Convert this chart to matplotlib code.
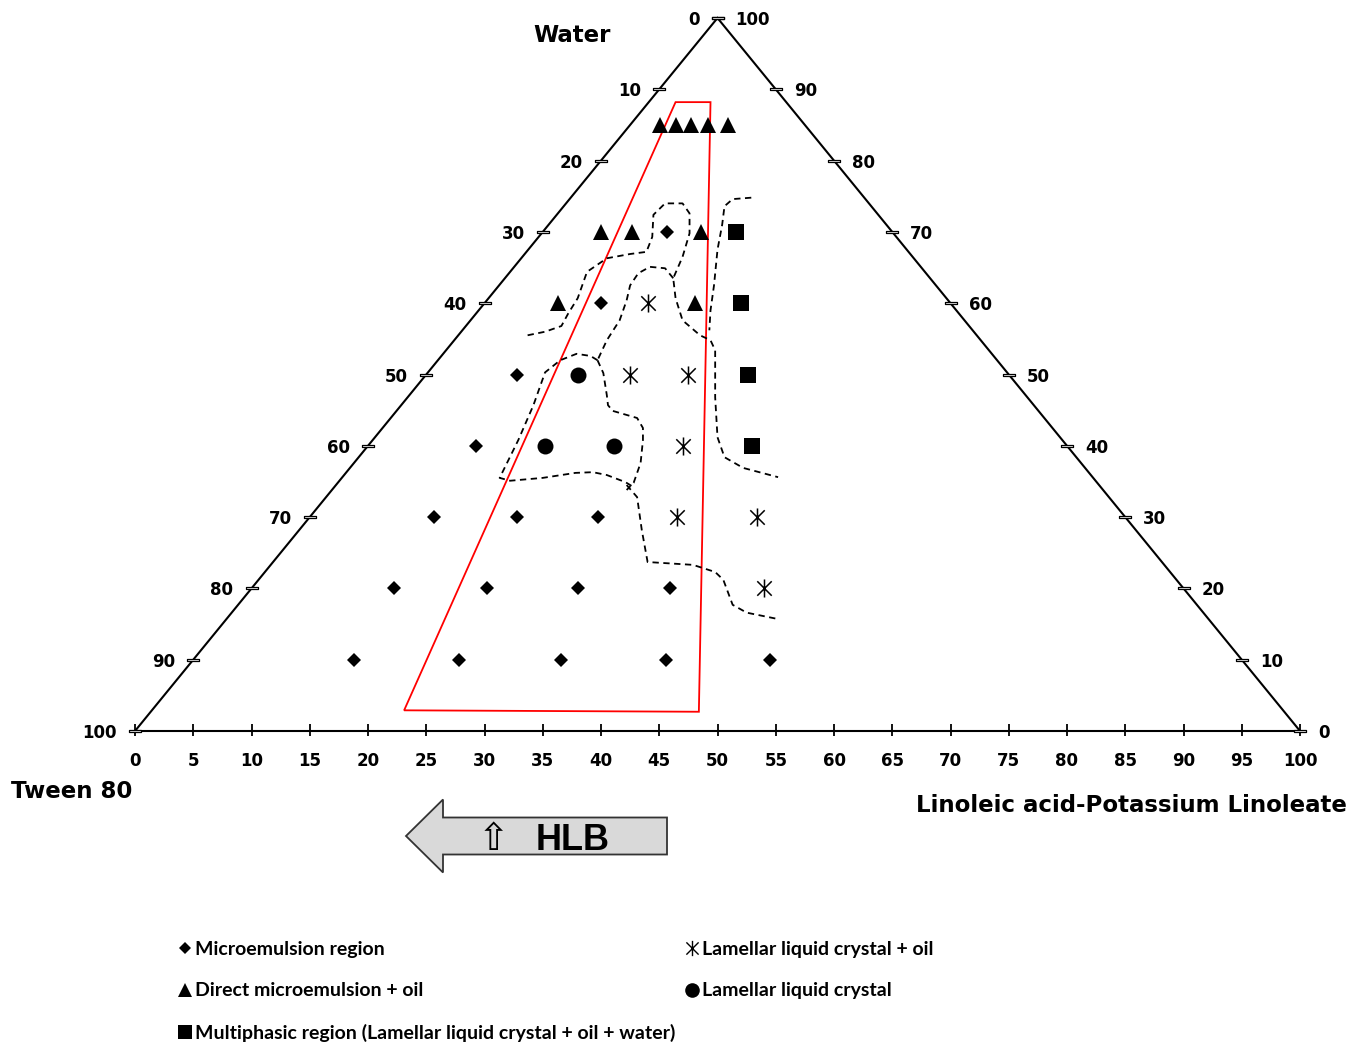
import numpy as np
import matplotlib.pyplot as plt
from matplotlib.path import Path
from matplotlib.patches import Polygon
from matplotlib.lines import Line2D

# ---- data: position on the base scale (0-100) and row height (apex = 100)
bottom_ticks = list(range(0, 101, 5))
side_ticks = list(range(0, 101, 10))

micro_b = [45.7, 40.0, 32.8, 29.3, 25.7, 32.8, 39.7,
           22.2, 30.2, 38.0, 45.9, 18.8, 27.8, 36.6, 45.6, 54.5]
micro_h = [70, 60, 50, 40, 30, 30, 30, 20, 20, 20, 20, 10, 10, 10, 10, 10]

direct_b = [45.1, 46.4, 47.7, 49.2, 50.9, 40.0, 42.7, 48.6, 36.3, 48.1]
direct_h = [85, 85, 85, 85, 85, 70, 70, 70, 60, 60]

multi_b = [51.6, 52.0, 52.6, 53.0]
multi_h = [70, 60, 50, 40]

lamoil_b = [44.0, 42.5, 47.5, 47.0, 46.5, 53.4, 54.0]
lamoil_h = [60, 50, 50, 40, 30, 30, 20]

lam_b = [38.0, 35.2, 41.1]
lam_h = [50, 40, 40]

# red region
region_b = [23.1, 46.4, 49.4, 48.4]
region_h = [2.9, 88.2, 88.2, 2.7]

# dashed phase boundaries
bnd1_b = [33.7, 35.2, 36.6, 37.2, 38.0, 38.8, 40.5, 42.5, 43.9, 44.4, 44.5,
          45.5, 47.0, 47.6, 47.6, 47.0, 46.2, 46.4, 47.0, 48.5, 49.4, 49.8,
          49.8, 50.0, 50.6, 52.2, 55.2]
bnd1_h = [55.5, 56.0, 56.8, 58.6, 60.7, 64.4, 66.3, 66.9, 67.2, 69.3, 72.4,
          74.0, 74.0, 72.6, 69.8, 66.5, 63.5, 60.7, 57.6, 55.5, 54.8, 53.4,
          46.8, 41.2, 38.4, 36.9, 35.6]

bnd2_b = [52.9, 51.3, 50.6, 50.4, 50.0, 49.7, 49.4, 49.3]
bnd2_h = [74.8, 74.6, 73.6, 71.0, 67.5, 62.5, 59.0, 56.2]

bnd3_b = [46.2, 45.5, 44.2, 43.2, 42.5, 42.2, 41.6, 40.5, 39.7]
bnd3_h = [63.5, 64.9, 65.1, 64.2, 62.5, 60.4, 57.6, 54.8, 52.0]

bnd4_b = [39.7, 39.1, 37.9, 36.5, 35.2, 34.2, 32.9, 31.3, 32.2, 35.0,
          37.8, 39.3, 40.5, 42.1, 42.8]
bnd4_h = [52.0, 52.6, 52.9, 52.0, 50.3, 45.7, 40.8, 35.5, 35.1, 35.5,
          36.2, 36.3, 35.9, 34.9, 34.2]

bnd5_b = [39.7, 40.2, 40.5, 40.6, 41.0, 43.1, 43.6, 43.6, 43.4, 42.8, 42.2]
bnd5_h = [52.0, 50.2, 47.1, 45.7, 44.9, 43.9, 42.5, 40.8, 37.6, 34.8, 33.8]

bnd6_b = [42.2, 43.1, 43.5, 44.0, 47.9, 49.8, 50.5, 51.3, 52.5, 55.2]
bnd6_h = [34.5, 32.8, 28.2, 23.7, 23.3, 22.3, 21.2, 17.7, 16.6, 15.7]

boundaries = [(bnd1_b, bnd1_h), (bnd2_b, bnd2_h), (bnd3_b, bnd3_h),
              (bnd4_b, bnd4_h), (bnd5_b, bnd5_h), (bnd6_b, bnd6_h)]

W, H = 1362, 1046
fig = plt.figure(figsize=(W / 100, H / 100), dpi=100)
ax = fig.add_axes([135 / W, (H - 731) / H, 1165 / W, 713 / H])
ax.set_xlim(0, 100)
ax.set_ylim(0, 100)
ax.axis('off')

# triangle frame
ax.plot([0, 50, 100, 0], [0, 100, 0, 0], color='k', lw=1.5, clip_on=False,
        solid_joinstyle='miter')

# base ticks and labels
ax.vlines(bottom_ticks, -0.7, 1.0, color='k', lw=1.3, clip_on=False)
for v in bottom_ticks:
    ax.annotate(str(v), (v, 0), xytext=(0, -21.5), textcoords='offset points',
                ha='center', va='center', fontsize=12, fontweight='bold')

# side ticks: small hollow bars
bar = Path([(-1, -0.22), (1, -0.22), (1, 0.22), (-1, 0.22), (-1, -0.22)],
           [Path.MOVETO, Path.LINETO, Path.LINETO, Path.LINETO, Path.CLOSEPOLY])
left_b = [(100 - v) / 2 for v in side_ticks]
left_h = [100 - v for v in side_ticks]
right_b = [100 - v / 2 for v in side_ticks]
right_h = side_ticks
for xs, ys in [(left_b, left_h), (right_b, right_h)]:
    ax.plot(xs, ys, ls='none', marker=bar, ms=9, mfc='white', mec='k',
            mew=0.9, clip_on=False, zorder=3)
for v, b, h in zip(side_ticks, left_b, left_h):
    ax.annotate(str(v), (b, h), xytext=(-13, -1.5), textcoords='offset points',
                ha='right', va='center', fontsize=12, fontweight='bold')
for v, b, h in zip(side_ticks, right_b, right_h):
    ax.annotate(str(v), (b, h), xytext=(13, -1.5), textcoords='offset points',
                ha='left', va='center', fontsize=12, fontweight='bold')

# red region
ax.add_patch(Polygon(list(zip(region_b, region_h)), closed=True, fill=False,
                     edgecolor='red', lw=1.3, zorder=2))

# dashed boundaries
for bx, by in boundaries:
    ax.plot(bx, by, color='k', lw=1.3, ls=(0, (3.5, 2.5)), zorder=2)

# six-arm star marker
star = Path([(0, -1.0), (0, 1.0), (-0.8, -0.8), (0.8, 0.8), (-0.8, 0.8), (0.8, -0.8)],
            [Path.MOVETO, Path.LINETO, Path.MOVETO, Path.LINETO, Path.MOVETO, Path.LINETO])

ax.plot(micro_b, micro_h, 'kD', ms=7, mew=0, zorder=4)
ax.plot(direct_b, direct_h, 'k^', ms=12, mew=0, zorder=4)
ax.plot(multi_b, multi_h, 'ks', ms=11.5, mew=0, zorder=4)
ax.plot(lamoil_b, lamoil_h, ls='none', marker=star, ms=13, mec='k', mew=1.1, zorder=4)
ax.plot(lam_b, lam_h, 'ko', ms=11.5, mew=0, zorder=4)

# axis names
fig.text(572 / W, 1 - 36 / H, 'Water', ha='center', va='center',
         fontsize=16.5, fontweight='bold')
fig.text(72 / W, 1 - 791 / H, 'Tween 80', ha='center', va='center',
         fontsize=16.5, fontweight='bold')
fig.text(1347 / W, 1 - 806 / H, 'Linoleic acid-Potassium Linoleate', ha='right',
         va='center', fontsize=16.5, fontweight='bold')

# HLB arrow
tip_x, neck_x, tail_x = 406, 443, 667
mid_y, shaft_hw, head_hw = 836, 18.5, 36.5
arrow_px = [(tip_x, mid_y), (neck_x, mid_y - head_hw), (neck_x, mid_y - shaft_hw),
            (tail_x, mid_y - shaft_hw), (tail_x, mid_y + shaft_hw),
            (neck_x, mid_y + shaft_hw), (neck_x, mid_y + head_hw)]
fig.patches.append(Polygon([(x / W, 1 - y / H) for x, y in arrow_px], closed=True,
                           transform=fig.transFigure, facecolor='#d9d9d9',
                           edgecolor='#333333', lw=1.3))
fig.text(493 / W, 1 - 840 / H, '\u21e7', ha='center', va='center', fontsize=27,
         family='DejaVu Sans')
fig.text(573 / W, 1 - 840 / H, 'HLB', ha='center', va='center', fontsize=26,
         fontweight='bold', family='Liberation Sans')

# legend
def handle(**kw):
    return Line2D([], [], ls='none', color='k', **kw)

leg_font = {'family': 'Lato', 'weight': 'bold', 'size': 14}
leg_kw = dict(loc='upper left', frameon=False, borderpad=0, borderaxespad=0,
              handlelength=1.0, handletextpad=0.05, labelspacing=1.25,
              prop=leg_font)
fig.legend([handle(marker='D', ms=6.5, mew=0), handle(marker='^', ms=10, mew=0),
            handle(marker='s', ms=10, mew=0)],
           ['Microemulsion region', 'Direct microemulsion + oil',
            'Multiphasic region (Lamellar liquid crystal + oil + water)'],
           bbox_to_anchor=(175 / W, 1 - 941 / H), **leg_kw)
fig.legend([handle(marker=star, ms=11, mec='k', mew=1.0),
            handle(marker='o', ms=10.5, mew=0)],
           ['Lamellar liquid crystal + oil', 'Lamellar liquid crystal'],
           bbox_to_anchor=(682 / W, 1 - 941 / H), **leg_kw)

fig.savefig('out.png', dpi=100)
